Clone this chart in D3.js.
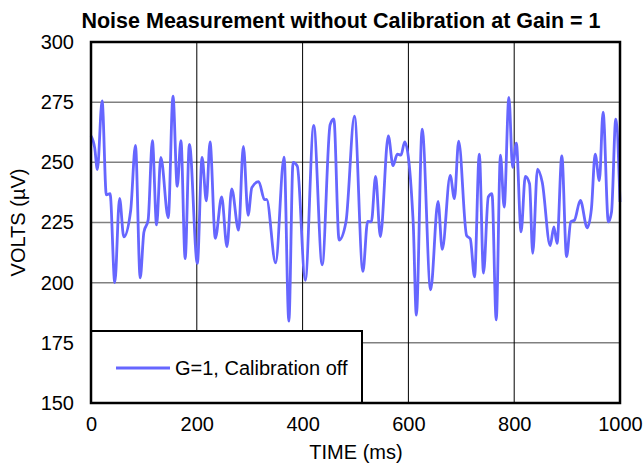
<!DOCTYPE html>
<html><head><meta charset="utf-8">
<script src="https://cdn.jsdelivr.net/npm/d3@7"></script>
<style>body{margin:0;background:#fff}svg{display:block}text{font-family:"Liberation Sans",Arial,sans-serif}</style>
</head><body><div id="chart"></div>
<script>
const title = "Noise Measurement without Calibration at Gain = 1";
const xLabel = "TIME (ms)";
const yLabel = "VOLTS (µV)";
const seriesName = "G=1, Calibration off";
const xTicks = [0, 200, 400, 600, 800, 1000];
const yTicks = [150, 175, 200, 225, 250, 275, 300];
const timeMs = [0,7,12,21,29,36,45,54,62,75,84,93,100,108,116,124,132,146,155,163,170,178,186,201,210,218,225,235,247,257,266,279,288,297,304,317,328,332,349,365,374,382,390,405,421,437,452,459,469,482,498,514,523,530,538,547,562,571,579,586,593,609,615,626,642,656,664,679,687,695,710,717,725,734,742,751,758,766,774,781,790,797,804,813,821,829,835,844,853,868,875,881,890,899,907,914,925,938,946,953,961,968,978,984,992,1000];
const voltsUV = [261,256,247,275.5,236.5,237,200,235,219,230,257,202,221,226,259,224,252,227,277.5,240,259,210,257.5,208,252,234,258.5,218.4,235.6,215,239,221.8,256.6,228,239.5,242,234.5,234.6,208.2,252.2,184,250,248.4,201,265.3,207.4,265.6,268,217.7,225.3,269.2,204.7,225.5,225.3,244.2,219.1,261,248.6,253.4,253,258.5,225.3,186.5,263.8,197,233.8,213.8,244.6,234.9,258.8,219.6,218.2,202.4,253.4,204,235.6,237,184.5,253,231.4,277,247.9,258,221.1,244.2,241.1,212.2,247.2,241.7,215.4,223.2,216.3,252.7,210.8,225.3,226,234.2,222.8,230.8,253.4,242.4,270.9,225.3,229.4,267.9,233.5];

const W = 644, H = 466;
const L = 91, R = 620, T = 42, B = 403;
const FONT = '"Liberation Sans",Arial,sans-serif';
const svg = d3.select("#chart").append("svg").attr("width", W).attr("height", H);
const x = d3.scaleLinear().domain([0, 1000]).range([L, R]);
const y = d3.scaleLinear().domain([150, 300]).range([B, T]);

// horizontal grid
svg.append("g").selectAll("line").data(yTicks.filter(d => d > 150 && d < 300)).join("line")
  .attr("x1", L).attr("x2", R).attr("y1", d => y(d)).attr("y2", d => y(d))
  .attr("stroke", "#808080").attr("stroke-width", 1.5);
// vertical grid
svg.append("g").selectAll("line").data(xTicks.filter(d => d > 0 && d < 1000)).join("line")
  .attr("y1", T).attr("y2", B).attr("x1", d => x(d)).attr("x2", d => x(d))
  .attr("stroke", "#000").attr("stroke-width", 1);

// series
const pts = timeMs.map((t, i) => [t, voltsUV[i]]);
svg.append("path").datum(pts)
  .attr("d", d3.line().x(d => x(d[0])).y(d => y(d[1])).curve(d3.curveMonotoneX))
  .attr("fill", "none").attr("stroke", "#6666ff").attr("stroke-width", 2.8)
  .attr("stroke-linejoin", "round");

// legend
const lg = svg.append("g");
lg.append("rect").attr("x", L).attr("y", 331).attr("width", 271).attr("height", B - 331)
  .attr("fill", "#fff").attr("stroke", "#000").attr("stroke-width", 2);
lg.append("line").attr("x1", 116).attr("x2", 170).attr("y1", 368).attr("y2", 368)
  .attr("stroke", "#6666ff").attr("stroke-width", 2.8);
lg.append("text").attr("x", 175).attr("y", 375).attr("font-size", 20).text(seriesName);

// frame
svg.append("rect").attr("x", L).attr("y", T).attr("width", R - L).attr("height", B - T)
  .attr("fill", "none").attr("stroke", "#000").attr("stroke-width", 2.5);

// axes (labels only)
const xa = svg.append("g").attr("transform", `translate(0,${B})`)
  .call(d3.axisBottom(x).tickValues(xTicks).tickSize(0).tickPadding(14).tickFormat(d3.format("d")));
const ya = svg.append("g").attr("transform", `translate(${L},0)`)
  .call(d3.axisLeft(y).tickValues(yTicks).tickSize(0).tickPadding(17).tickFormat(d3.format("d")));
[xa, ya].forEach(a => {
  a.select(".domain").remove();
  a.selectAll("text").attr("font-family", FONT).attr("font-size", 20).attr("fill", "#000");
});

svg.append("text").attr("x", 341).attr("y", 28).attr("text-anchor", "middle")
  .attr("font-size", 21.5).attr("font-weight", "bold").text(title);
svg.append("text").attr("x", 356).attr("y", 459).attr("text-anchor", "middle")
  .attr("font-size", 20).text(xLabel);
svg.append("text").attr("transform", `translate(25,${(T + B) / 2}) rotate(-90)`)
  .attr("text-anchor", "middle").attr("font-size", 20).text(yLabel);
</script></body></html>
